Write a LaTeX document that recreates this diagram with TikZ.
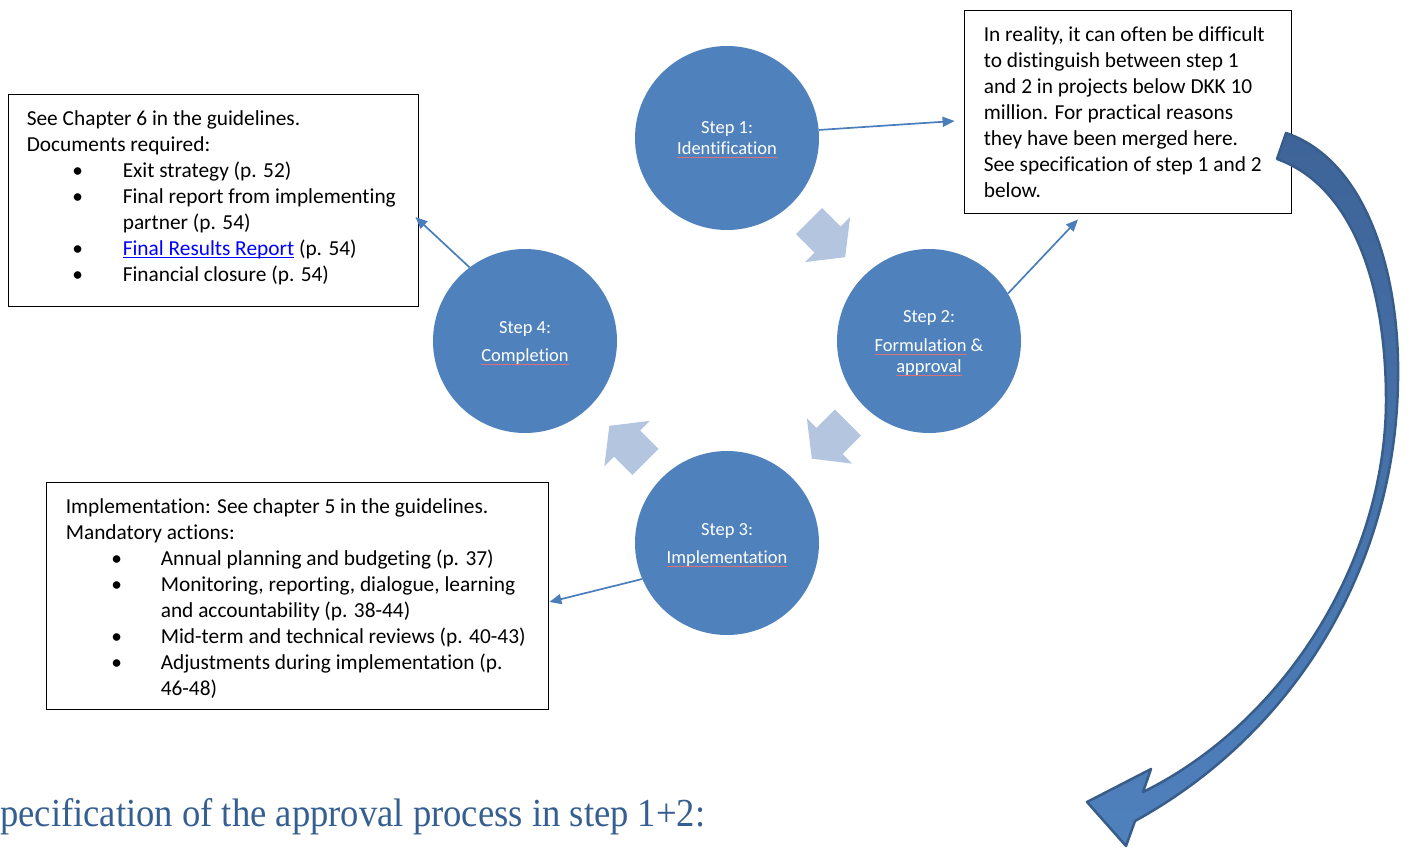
\documentclass[tikz,border=0pt]{standalone}
\usepackage{fontspec}
\usepackage{graphicx}
\setmainfont{Carlito}[Ligatures={NoCommon}]
\newfontfamily\headfont{Liberation Serif}
\usetikzlibrary{arrows.meta}
\definecolor{stepblue}{RGB}{79,129,189}
\definecolor{connblue}{RGB}{74,126,187}
\definecolor{blockfill}{RGB}{180,197,224}
\definecolor{headblue}{RGB}{54,95,145}
\definecolor{bigline}{RGB}{56,93,138}
\definecolor{bigtop}{RGB}{62,100,152}
\definecolor{spellred}{RGB}{222,110,120}
\definecolor{linkblue}{RGB}{0,0,255}
\newsavebox\wordbox
\newcommand\spell[1]{\sbox\wordbox{#1}\rlap{\smash{\textcolor{spellred}{\rule[-3pt]{\wd\wordbox}{0.55pt}}}}\usebox\wordbox}
\newcommand\linkul[1]{\sbox\wordbox{#1}\rlap{\smash{\rule[-2.6pt]{\wd\wordbox}{1pt}}}\usebox\wordbox}
\newcommand\blockarrow[3]{\fill[blockfill, shift={(#1,#2)}, rotate=#3] (-26,-18.5) -- (0,-18.5) -- (0,-32) -- (25,0) -- (0,32) -- (0,18.5) -- (-26,18.5) -- cycle;}
\newcommand\bul{\hspace*{51pt}\makebox[0pt]{\textbullet}}
\tikzset{
  stepc/.style={circle, fill=stepblue, minimum size=184pt, inner sep=0pt},
  steptext/.style={inner sep=0pt, text=white, align=center, font=\fontsize{18.5}{21}\selectfont},
  boxs/.style={draw=black, line width=0.8pt, inner sep=0pt},
  btext/.style={anchor=base west, inner sep=0pt, font=\fontsize{21.35}{26}\selectfont},
  conn/.style={draw=connblue, line width=1.7pt, -{Triangle[length=12pt,width=10pt]}}
}
\begin{document}
\begin{tikzpicture}[x=1pt,y=-1pt]
\useasboundingbox (0,0) rectangle (1408,848);
% circles
\node[stepc] (s1) at (727,138) {};
\node[stepc] (s2) at (929,341) {};
\node[stepc] (s3) at (727,543) {};
\node[stepc] (s4) at (525,341) {};
\node[steptext] (l1) at ([yshift=0pt]s1.center) {Step 1:\\\spell{Identification}};
\node[steptext] (l2) at ([yshift=-2pt]s2.center) {Step 2:\\[8pt]\spell{Formulation} \&\\\spell{approval}};
\node[steptext] (l3) at ([yshift=-2pt]s3.center) {Step 3:\\[7pt]\spell{Implementation}};
\node[steptext] (l4) at ([yshift=-2pt]s4.center) {Step 4:\\[7pt]\spell{Completion}};
% block arrows between steps
\blockarrow{827.5}{239.5}{-45}
\blockarrow{829.5}{441}{-135}
\blockarrow{627}{443.5}{135}
% boxes
\node[boxs, minimum width=327pt, minimum height=203pt] (b1) at (1127.5,111.5) {};
\node[boxs, minimum width=410pt, minimum height=212pt] (b2) at (213,200) {};
\node[boxs, minimum width=502pt, minimum height=227pt] (b3) at (297,595.5) {};
\node[btext] (t1) at ([xshift=20pt,yshift=-31.5pt]b1.north west) {\parbox[t]{320pt}{In reality, it can often be difficult\\to distinguish between step 1\\and 2 in projects below DKK 10\\million. For practical reasons\\they have been merged here.\\See specification of step 1 and 2\\below.}};
\node[btext] (t2) at ([xshift=19pt,yshift=-31.5pt]b2.north west) {\parbox[t]{400pt}{See Chapter 6 in the guidelines.\\Documents required:\\\bul\hspace*{45pt}Exit strategy (p. 52)\\\bul\hspace*{45pt}Final report from implementing\\\hspace*{96pt}partner (p. 54)\\\bul\hspace*{45pt}\textcolor{linkblue}{\linkul{Final Results Report}} (p. 54)\\\bul\hspace*{45pt}Financial closure (p. 54)}};
\node[btext] (t3) at ([xshift=20pt,yshift=-31.5pt]b3.north west) {\parbox[t]{490pt}{Implementation: See chapter 5 in the guidelines.\\Mandatory actions:\\\bul\hspace*{44pt}Annual planning and budgeting (p. 37)\\\bul\hspace*{44pt}Monitoring, reporting, dialogue, learning\\\hspace*{95pt}and accountability (p. 38-44)\\\bul\hspace*{44pt}Mid-term and technical reviews (p. 40-43)\\\bul\hspace*{44pt}Adjustments during implementation (p.\\\hspace*{95pt}46-48)}};
% connectors
\draw[conn] (s1.5.6) -- ([xshift=-9pt,yshift=-9.5pt]b1.west);
\draw[conn] (s2.31.6) -- ([xshift=-49.5pt,yshift=-6pt]b1.south);
\draw[conn] (s4.127) -- ([xshift=-3pt,yshift=-17pt]b2.east);
\draw[conn] (s3.203) -- ([xshift=1pt,yshift=-6.5pt]b3.east);
% big curved arrow
\shade[top color=bigtop, bottom color=stepblue, draw=bigline, line width=2.5pt, line join=round]
  (1286,133) .. controls (1365,160) and (1400,270) .. (1398,380)
  .. controls (1396,560) and (1300,730) .. (1135,821)
  -- (1126,846) -- (1087,802) -- (1151,769) -- (1143,792)
  .. controls (1285,722) and (1386,560) .. (1386,400)
  .. controls (1386,280) and (1350,185) .. (1277,159) -- cycle;
% heading
\node[anchor=base west, inner sep=0pt, text=headblue] (head) at (0,826) {\resizebox{705pt}{28pt}{\headfont pecification of the approval process in step 1+2:}};
\end{tikzpicture}
\end{document}
